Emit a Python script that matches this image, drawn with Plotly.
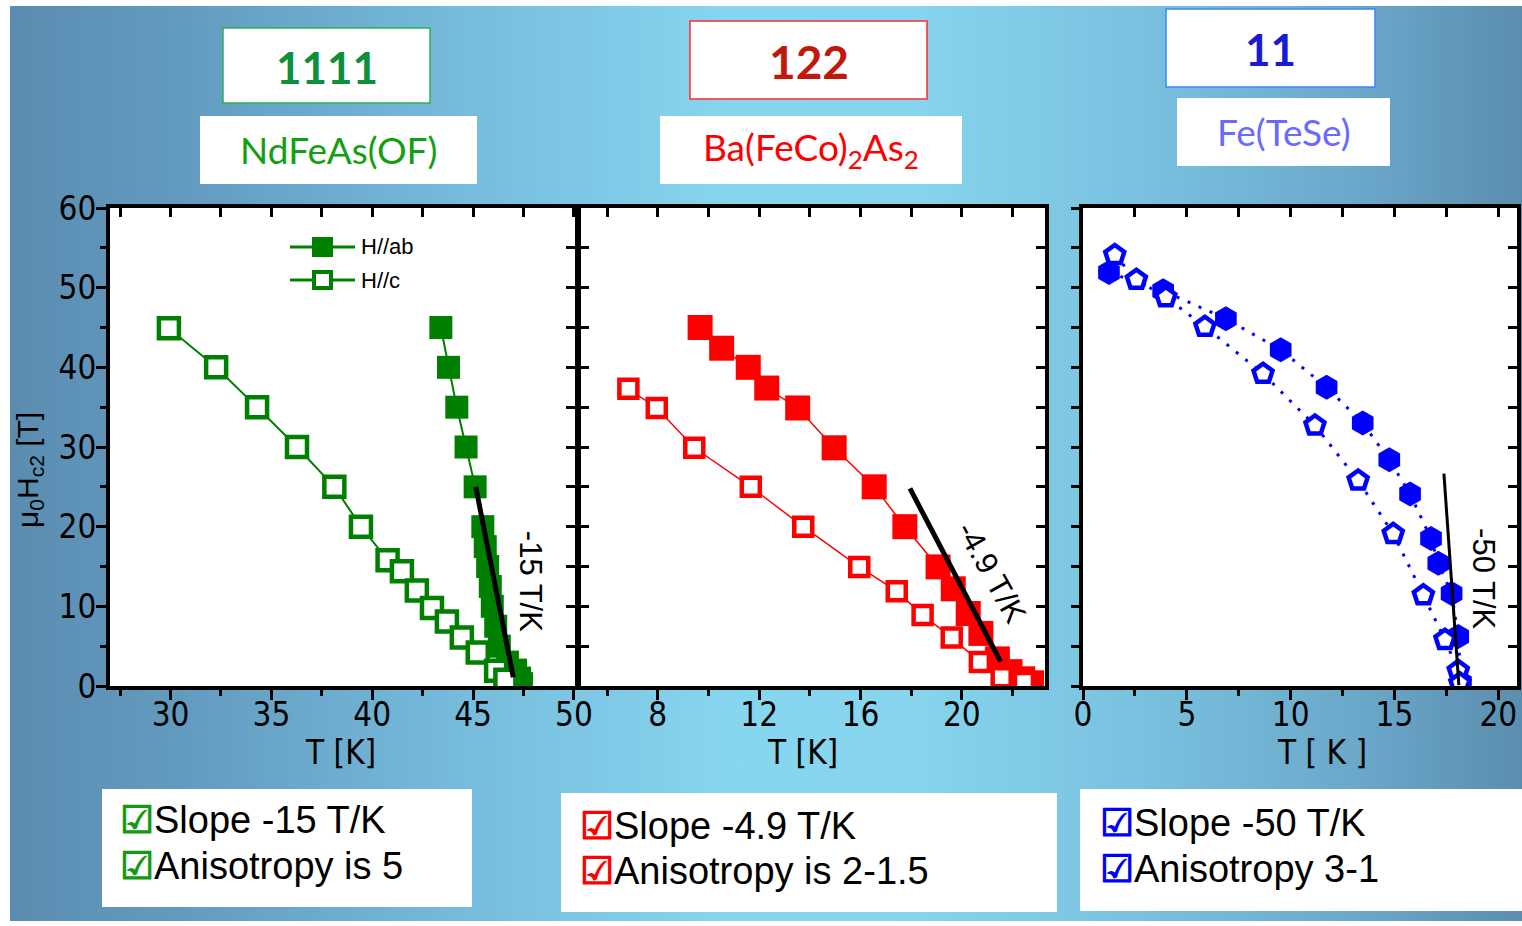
import plotly.graph_objects as go

# ---------------- data ----------------
# Panel 1: NdFeAs(OF)  (1111)
nd_ab_T = [43.40, 43.78, 44.19, 44.65, 45.10, 45.48, 45.60, 45.72, 45.85, 45.95, 46.12, 46.30, 46.70, 47.10, 47.30, 47.40]
nd_ab_H = [45.0, 40.0, 35.0, 30.0, 25.0, 20.0, 17.5, 15.0, 12.5, 10.0, 7.5, 5.0, 3.0, 2.0, 1.0, 0.3]
nd_c_T = [29.92, 32.26, 34.29, 36.27, 38.12, 39.44, 40.76, 41.47, 42.21, 42.96, 43.70, 44.44, 45.23, 46.14, 46.60]
nd_c_H = [44.9, 40.0, 35.0, 30.0, 25.0, 20.0, 15.8, 14.4, 12.0, 9.8, 8.1, 6.1, 4.2, 1.9, 0.8]
nd_slope_T = [45.13, 46.99]
nd_slope_H = [25.0, 1.1]

# Panel 2: Ba(FeCo)2As2  (122)
ba_ab_T = [9.67, 10.52, 11.57, 12.30, 13.52, 14.96, 16.54, 17.75, 19.06, 19.66, 20.25, 20.75, 21.40, 21.90, 22.40, 22.75]
ba_ab_H = [45.0, 42.4, 40.0, 37.4, 34.9, 29.9, 25.0, 20.0, 14.95, 12.2, 9.1, 6.6, 3.4, 1.8, 0.9, 0.4]
ba_c_T = [6.84, 7.96, 9.44, 11.67, 13.74, 15.95, 17.43, 18.45, 19.60, 20.71, 21.57, 22.45]
ba_c_H = [37.3, 34.9, 29.9, 25.0, 20.0, 14.95, 11.9, 8.9, 6.1, 3.0, 1.1, 0.5]
ba_slope_T = [17.95, 21.53]
ba_slope_H = [24.8, 3.05]

# Panel 3: Fe(TeSe)  (11)
fe_ab_T = [1.25, 3.86, 6.88, 9.52, 11.73, 13.47, 14.75, 15.75, 16.76, 17.11, 17.75, 18.07, 18.20]
fe_ab_H = [51.9, 49.6, 46.1, 42.2, 37.5, 33.0, 28.4, 24.1, 18.5, 15.4, 11.6, 6.2, 0.4]
fe_c_T = [1.53, 2.57, 3.99, 5.87, 8.67, 11.17, 13.25, 14.94, 16.39, 17.43, 18.07, 18.15]
fe_c_H = [54.1, 51.0, 48.8, 45.1, 39.2, 32.7, 25.8, 19.1, 11.4, 5.8, 1.9, 0.35]
fe_slope_T = [17.38, 18.10]
fe_slope_H = [26.65, 0.1]

y_ticks = [0, 10, 20, 30, 40, 50, 60]

slope_labels = ["-15 T/K", "-4.9 T/K", "-50 T/K"]
slope_label_T = [47.82, 21.18, 19.28]
slope_label_H = [13.2, 14.3, 13.5]
slope_label_angle = [90, 61, 90]

headers_top = ["<b>1111</b>", "<b>122</b>", "<b>11</b>"]
headers_sub = ["NdFeAs(OF)", "Ba(FeCo)<sub>2</sub>As<sub>2</sub>", "Fe(TeSe)"]
notes_line1 = ["Slope -15 T/K", "Slope -4.9 T/K", "Slope -50 T/K"]
notes_line2 = ["Anisotropy is 5", "Anisotropy is 2-1.5", "Anisotropy 3-1"]
legend_names = ["H//ab", "H//c"]
x_titles = ["T [K]", "T [K]", "T [ K ]"]

# ---------------- layout helpers ----------------
W, H = 1522, 926


def fx(p):
    return p / W


def fy(p):
    return 1 - p / H


GREEN, RED, BLUE = "#008000", "#ff0000", "#0000ff"
NARROW = "Liberation Sans Narrow, DejaVu Sans Condensed, Arial Narrow, sans-serif"
ARIAL = "Liberation Sans, Arial, sans-serif"
CAL = "Lato, Open Sans, sans-serif"
TICK_FS = 33

fig = go.Figure()

# background gradient on a full-page helper subplot
fig.add_trace(go.Scatter(
    x=[10, W, W, 10, 10], y=[6, 6, 921, 921, 6], mode="lines", fill="toself",
    line=dict(width=0), fillgradient=dict(type="horizontal", colorscale=[
        [0, "#5b8cb0"], [0.12, "#639cc0"], [0.3, "#76bcdc"], [0.48, "#87d6ef"],
        [0.6, "#86d4ed"], [0.75, "#79c1df"], [0.9, "#6aa6c8"], [1, "#5b8dae"]]),
    hoverinfo="skip", showlegend=False, xaxis="x", yaxis="y"))

panels = [
    dict(ab=(nd_ab_T, nd_ab_H), c=(nd_c_T, nd_c_H), sl=(nd_slope_T, nd_slope_H), color=GREEN,
         dom=(110, 575), rng=(27, 50.05), dt=5, mdt=2.5, topdt=2.5, tick0=0, tcx=340,
         ab_sym="square", c_sym="square", ab_size=23, c_size=20, dash="solid", lw=2, slw=5),
    dict(ab=(ba_ab_T, ba_ab_H), c=(ba_c_T, ba_c_H), sl=(ba_slope_T, ba_slope_H), color=RED,
         dom=(581, 1045), rng=(4.97, 23.28), dt=4, mdt=2, topdt=2, tick0=0, tcx=803,
         ab_sym="square", c_sym="square", ab_size=25, c_size=18, dash="solid", lw=1.5, slw=5),
    dict(ab=(fe_ab_T, fe_ab_H), c=(fe_c_T, fe_c_H), sl=(fe_slope_T, fe_slope_H), color=BLUE,
         dom=(1083, 1517), rng=(0, 20.9), dt=5, mdt=2.5, topdt=2.5, tick0=0, tcx=1322,
         ab_sym="hexagon", c_sym="pentagon", ab_size=25, c_size=20, dash="3px,9px", lw=3, slw=3),
]

layout_axes = dict(
    xaxis=dict(domain=[0, 1], range=[0, W], visible=False, fixedrange=True),
    yaxis=dict(domain=[0, 1], range=[H, 0], visible=False, fixedrange=True),
)
ydom = [fy(686), fy(208)]

for i, p in enumerate(panels):
    k = i + 2
    ko = i + 5
    xa, ya = f"x{k}", f"y{k}"
    col = p["color"]
    # filled series
    fig.add_trace(go.Scatter(
        x=p["ab"][0], y=p["ab"][1], mode="lines+markers", xaxis=xa, yaxis=ya,
        line=dict(color=col, width=p["lw"], dash=p["dash"]),
        marker=dict(symbol=p["ab_sym"], size=p["ab_size"], color=col, line=dict(width=0)),
        name=legend_names[0], showlegend=False))
    # open series
    fig.add_trace(go.Scatter(
        x=p["c"][0], y=p["c"][1], mode="lines+markers", xaxis=xa, yaxis=ya,
        line=dict(color=col, width=p["lw"], dash=p["dash"]),
        marker=dict(symbol=p["c_sym"], size=p["c_size"], color="white", line=dict(width=4.5, color=col)),
        name=legend_names[1], showlegend=False))
    # slope line
    fig.add_trace(go.Scatter(
        x=p["sl"][0], y=p["sl"][1], mode="lines", xaxis=xa, yaxis=ya,
        line=dict(color="black", width=p["slw"]), showlegend=False, hoverinfo="skip"))
    # dummy trace for overlay axes (inside ticks on top/right)
    fig.add_trace(go.Scatter(x=[None], y=[None], xaxis=f"x{ko}", yaxis=f"y{ko}",
                             showlegend=False, hoverinfo="skip"))

    xdom = [fx(p["dom"][0]), fx(p["dom"][1])]
    layout_axes[f"xaxis{k}"] = dict(
        domain=xdom, range=list(p["rng"]), anchor=ya, showline=True, linewidth=4,
        linecolor="black", mirror=True, ticks="outside", ticklen=10, tickwidth=3,
        tickcolor="black", tick0=p["tick0"], dtick=p["dt"], showgrid=False, zeroline=False,
        tickfont=dict(family=NARROW, size=TICK_FS, color="black"), automargin=False,
        ticklabelstandoff=-14,
        minor=dict(ticks="outside", ticklen=6, tickwidth=3, tickcolor="black",
                   dtick=p["mdt"], tick0=p["tick0"], showgrid=False))
    yax = dict(
        domain=ydom, range=[0, 60], anchor=xa, showline=True, linewidth=4,
        linecolor="black", mirror=True, tickvals=y_ticks, ticklen=10, tickwidth=3,
        tickcolor="black", showgrid=False, zeroline=False, automargin=False,
        tickfont=dict(family=NARROW, size=TICK_FS, color="black"),
        minor=dict(ticklen=6, tickwidth=3, tickcolor="black", dtick=5, showgrid=False))
    if i == 0:
        yax.update(ticks="outside", showticklabels=True, ticklabelstandoff=-7)
        yax["minor"]["ticks"] = "outside"
    elif i == 1:
        yax.update(ticks="inside", showticklabels=False, ticklen=8)
        yax["minor"].update(ticks="inside", ticklen=8)
    else:
        yax.update(ticks="outside", showticklabels=False, ticklen=8)
        yax["minor"].update(ticks="outside", ticklen=8)
    layout_axes[f"yaxis{k}"] = yax
    layout_axes[f"xaxis{ko}"] = dict(
        overlaying=xa, anchor=ya, side="top", range=list(p["rng"]), ticks="inside",
        ticklen=9, tickwidth=3, tickcolor="black", tick0=0, dtick=p["topdt"],
        showticklabels=False, showline=False, showgrid=False, zeroline=False, automargin=False)
    layout_axes[f"yaxis{ko}"] = dict(
        overlaying=ya, anchor=xa, side="right", range=[0, 60], ticks="inside",
        ticklen=9, tickwidth=3, tickcolor="black", tick0=0, dtick=5,
        showticklabels=False, showline=False, showgrid=False, zeroline=False, automargin=False)

annotations = []
shapes = []

# slope labels
for i in range(3):
    annotations.append(dict(
        x=slope_label_T[i], y=slope_label_H[i], xref=f"x{i+2}", yref=f"y{i+2}",
        text=slope_labels[i], textangle=slope_label_angle[i], showarrow=False,
        font=dict(family=ARIAL, size=31, color="black"), xanchor="center", yanchor="middle"))

# axis titles
for i, p in enumerate(panels):
    annotations.append(dict(x=fx(p["tcx"]), y=fy(752), xref="paper", yref="paper", text=x_titles[i],
                            showarrow=False, font=dict(family=NARROW, size=TICK_FS, color="black"),
                            xanchor="center", yanchor="middle"))
annotations.append(dict(x=fx(29), y=fy(470), xref="paper", yref="paper",
                        text="\u03bc<sub>0</sub>H<sub>c2</sub> [T]", textangle=-90,
                        showarrow=False, font=dict(family=ARIAL, size=30, color="black"),
                        xanchor="center", yanchor="middle"))

# header boxes
top_boxes = [(223, 430, 28, 103, "#2ab350", "#0e8f3c", 44),
             (690, 927, 21, 99, "#ff2a2a", "#c0180c", 46),
             (1166, 1375, 9, 87, "#3d87f5", "#1a1ad6", 44)]
sub_boxes = [(200, 477, 116, 184, "#12a012"),
             (660, 962, 116, 184, "#ff0000"),
             (1177, 1390, 98, 166, "#6a6aff")]
for i in range(3):
    x0, x1, y0, y1, bc, tc, fs = top_boxes[i]
    shapes.append(dict(type="rect", xref="paper", yref="paper", x0=fx(x0), x1=fx(x1),
                       y0=fy(y1), y1=fy(y0), fillcolor="white", line=dict(color=bc, width=1.5),
                       layer="above"))
    annotations.append(dict(x=fx((x0 + x1) / 2), y=fy((y0 + y1) / 2 + 1), xref="paper", yref="paper",
                            text=headers_top[i], showarrow=False,
                            font=dict(family=CAL, size=fs, color=tc),
                            xanchor="center", yanchor="middle"))
    x0, x1, y0, y1, tc = sub_boxes[i]
    shapes.append(dict(type="rect", xref="paper", yref="paper", x0=fx(x0), x1=fx(x1),
                       y0=fy(y1), y1=fy(y0), fillcolor="white", line=dict(width=0),
                       layer="above"))
    annotations.append(dict(x=fx((x0 + x1) / 2), y=fy((y0 + y1) / 2), xref="paper", yref="paper",
                            text=headers_sub[i], showarrow=False,
                            font=dict(family=CAL, size=37, color=tc),
                            xanchor="center", yanchor="middle"))

# bottom note boxes
note_boxes = [(102, 472, 789, 907, 118, 820, 866, "#139a13"),
              (561, 1057, 793, 912, 578, 826, 871, "#ff0000"),
              (1080, 1522, 789, 911, 1098, 823, 869, "#0000ff")]
for i in range(3):
    x0, x1, y0, y1, tx, ty1, ty2, cc = note_boxes[i]
    shapes.append(dict(type="rect", xref="paper", yref="paper", x0=fx(x0), x1=fx(x1),
                       y0=fy(y1), y1=fy(y0), fillcolor="white", line=dict(width=0),
                       layer="above"))
    for txt, ty in [(notes_line1[i], ty1), (notes_line2[i], ty2)]:
        annotations.append(dict(
            x=fx(tx), y=fy(ty), xref="paper", yref="paper",
            text=f'<span style="color:{cc}"><b>\u2611</b></span>{txt}', showarrow=False,
            font=dict(family=ARIAL, size=38, color="black"), xanchor="left", yanchor="middle"))

# custom legend in panel 1
for j, (cy, filled) in enumerate([(247, True), (280, False)]):
    shapes.append(dict(type="line", xref="paper", yref="paper", x0=fx(290), x1=fx(355),
                       y0=fy(cy), y1=fy(cy), line=dict(color=GREEN, width=3), layer="above"))
    if filled:
        shapes.append(dict(type="rect", xref="paper", yref="paper", x0=fx(312), x1=fx(333),
                           y0=fy(cy + 10), y1=fy(cy - 10), fillcolor=GREEN,
                           line=dict(width=0), layer="above"))
    else:
        shapes.append(dict(type="rect", xref="paper", yref="paper", x0=fx(314), x1=fx(331),
                           y0=fy(cy + 8), y1=fy(cy - 8), fillcolor="white",
                           line=dict(color=GREEN, width=4), layer="above"))
    annotations.append(dict(x=fx(359), y=fy(cy), xref="paper", yref="paper",
                            text=legend_names[j], showarrow=False,
                            font=dict(family=ARIAL, size=22, color="black"),
                            xanchor="left", yanchor="middle"))

fig.update_layout(
    width=W, height=H, autosize=False, margin=dict(l=0, r=0, t=0, b=0, pad=0),
    paper_bgcolor="white", plot_bgcolor="white", showlegend=False,
    annotations=annotations, shapes=shapes, **layout_axes)

fig.write_html("out.html")
